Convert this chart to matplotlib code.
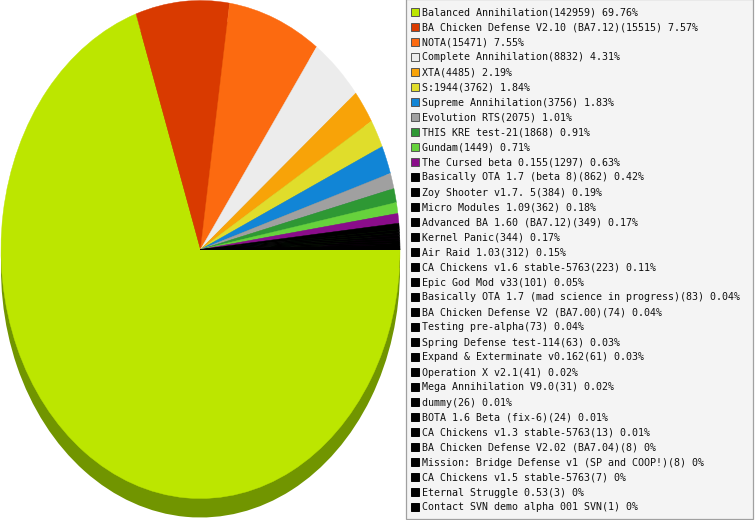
import matplotlib
matplotlib.use("Agg")
import matplotlib.pyplot as plt
from matplotlib.patches import Rectangle

# --------- data ---------
mods = [
    "Balanced Annihilation", "BA Chicken Defense V2.10 (BA7.12)", "NOTA",
    "Complete Annihilation", "XTA", "S:1944", "Supreme Annihilation",
    "Evolution RTS", "THIS KRE test-21", "Gundam", "The Cursed beta 0.155",
    "Basically OTA 1.7 (beta 8)", "Zoy Shooter v1.7. 5", "Micro Modules 1.09",
    "Advanced BA 1.60 (BA7.12)", "Kernel Panic", "Air Raid 1.03",
    "CA Chickens v1.6 stable-5763", "Epic God Mod v33",
    "Basically OTA 1.7 (mad science in progress)",
    "BA Chicken Defense V2 (BA7.00)", "Testing pre-alpha",
    "Spring Defense test-114", "Expand & Exterminate v0.162",
    "Operation X v2.1", "Mega Annihilation V9.0", "dummy",
    "BOTA 1.6 Beta (fix-6)", "CA Chickens v1.3 stable-5763",
    "BA Chicken Defense V2.02 (BA7.04)",
    "Mission: Bridge Defense v1 (SP and COOP!)",
    "CA Chickens v1.5 stable-5763", "Eternal Struggle 0.53",
    "Contact SVN demo alpha 001 SVN",
]
games = [
    142959, 15515, 15471, 8832, 4485, 3762, 3756, 2075, 1868, 1449, 1297,
    862, 384, 362, 349, 344, 312, 223, 101, 83, 74, 73, 63, 61, 41, 31, 26,
    24, 13, 8, 8, 7, 3, 1,
]

# --------- style ---------
colors = ["#bce600", "#d93a00", "#fc6a10", "#ececec", "#f8a308", "#e0dd2b",
          "#1185d6", "#a0a0a0", "#2e9834", "#66d23c", "#8a0d8a"]
colors += ["#000000"] * (len(games) - len(colors))


def darker(c, f=0.6):
    c = c.lstrip("#")
    r, g, b = (int(c[i:i + 2], 16) / 255 for i in (0, 2, 4))
    return (r * f, min(1.0, g * f * 1.08), b * f)


depth_colors = [darker(c) for c in colors]

total = sum(games)
pct = [100 * g / total for g in games]

W, H = 755, 520
fig = plt.figure(figsize=(W / 100, H / 100), dpi=100)
fig.patch.set_facecolor("white")

# --------- pie (ellipse with depth) ---------
cx, cy, rx, ry, depth = 200.5, 249.5, 199.5, 249.0, 19.0
ax = fig.add_axes([0, 0, 1, 1])
ax.pie(games, colors=depth_colors, startangle=0, counterclock=False,
       radius=1, center=(0, -depth / ry), frame=False,
       wedgeprops=dict(linewidth=0))
wedges, _ = ax.pie(games, colors=colors, startangle=0, counterclock=False,
                   radius=1, center=(0, 0), frame=False,
                   wedgeprops=dict(linewidth=0.3))
for w, c in zip(wedges, colors):
    w.set_edgecolor(c)
ax.set_aspect("auto")
ax.set_xlim((0 - cx) / rx, (W - cx) / rx)
ax.set_ylim((cy - H) / ry, cy / ry)
ax.axis("off")

# --------- legend ---------
lg = fig.add_axes([0, 0, 1, 1])
lg.set_xlim(0, W)
lg.set_ylim(H, 0)
lg.axis("off")
lg.add_patch(Rectangle((405.5, -1), 347, 519.5, facecolor="#f4f4f4",
                       edgecolor="#a0a0a0", linewidth=0.9))
for i, (name, n, p, c) in enumerate(zip(mods, games, pct, colors)):
    y = 12 + 15 * i
    ec = "#555555" if c != "#000000" else "#000000"
    lg.add_patch(Rectangle((411, y - 4), 8, 8, facecolor=c, edgecolor=ec,
                           linewidth=0.7))
    ptxt = f"{round(p, 2):g}"
    lg.text(422, y + 0.5, f"{name}({n}) {ptxt}%", fontsize=7.2,
            family="DejaVu Sans Mono", va="center", ha="left", color="#111111")

plt.savefig("out.png", dpi=100)
